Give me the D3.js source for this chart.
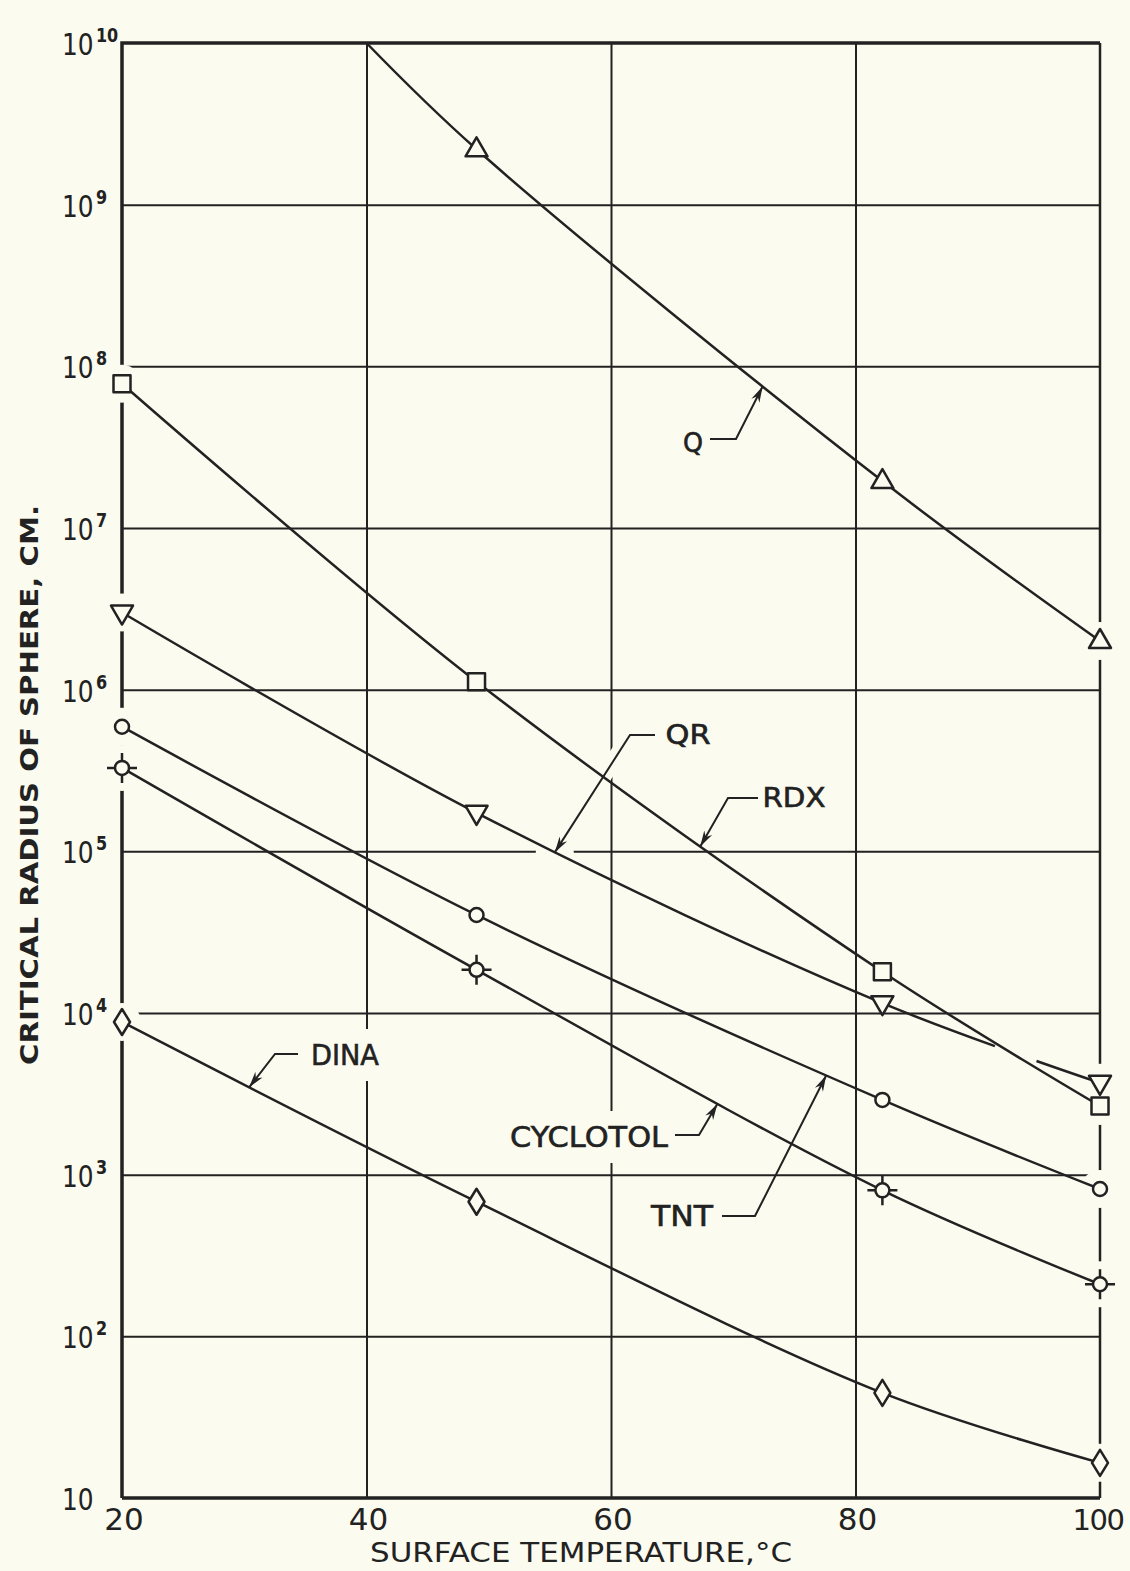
<!DOCTYPE html>
<html>
<head>
<meta charset="utf-8">
<script src="https://cdn.jsdelivr.net/npm/d3@7"></script>
<style>
    body { margin: 0; background: #fbfbef; }
</style>
</head>
<body>
<div id="plot"></div>
<script>
// Data
// =================================
var temps = [20, 49, 82.2, 100];
var qTemps = [40, 49, 82.2, 100];
var qValues = [1e10, 2.2e9, 1.95e7, 2.0e6];
var rdxValues = [7.8e7, 1.12e6, 1.8e4, 2.66e3];
var qrValues = [3.0e6, 1.73e5, 1.15e4, 3.7e3];
var tntValues = [5.9e5, 4.04e4, 2.9e3, 8.15e2];
var cyclotolValues = [3.28e5, 1.85e4, 8.0e2, 2.1e2];
var dinaValues = [8.8e3, 6.8e2, 44.7, 16.5];

var xTicks = [20, 40, 60, 80, 100];
var yTicks = [1e1, 1e2, 1e3, 1e4, 1e5, 1e6, 1e7, 1e8, 1e9, 1e10];
var yTickExp = ["", "2", "3", "4", "5", "6", "7", "8", "9", "10"];

var bg = "#fbfbef";
var ink = "#222";

/* Step 1
 * workspace
 */
var svgWidth = 1130;
var svgHeight = 1571;
var margin = { top: 43, right: 30, bottom: 73, left: 122 };
var width = svgWidth - margin.left - margin.right;
var height = svgHeight - margin.top - margin.bottom;

var svg = d3.select("#plot")
    .append("svg")
    .attr("width", svgWidth)
    .attr("height", svgHeight);

svg.append("rect")
    .attr("width", svgWidth)
    .attr("height", svgHeight)
    .attr("fill", bg);

var chartGroup = svg.append("g")
    .attr("transform", `translate(${margin.left}, ${margin.top})`);

// layers, filled later in this order
var gridLayer = chartGroup.append("g");
var frameLayer = chartGroup.append("g");
var knockLayer = chartGroup.append("g");
var curveLayer = chartGroup.append("g");
var markerLayer = chartGroup.append("g");
var leaderLayer = chartGroup.append("g");
var textLayer = svg.append("g");

/* Step 2
 * scales, grid, frame
 */
var xScale = d3.scaleLinear().domain([20, 100]).range([0, width]);
var yScale = d3.scaleLog().domain([10, 1e10]).range([height, 0]);

gridLayer.append("g")
    .attr("transform", `translate(0, ${height})`)
    .call(d3.axisBottom(xScale).tickValues([40, 60, 80]).tickSize(-height).tickFormat(""))
    .call(g => g.select(".domain").remove());

gridLayer.append("g")
    .call(d3.axisLeft(yScale).tickValues(yTicks.slice(1, -1)).tickSize(-width).tickFormat(""))
    .call(g => g.select(".domain").remove());

gridLayer.selectAll(".tick line")
    .attr("stroke", ink)
    .attr("stroke-width", 2);

frameLayer.append("path")
    .attr("d", `M0,${height}V0H${width}M0,${height}H${width}`)
    .attr("fill", "none")
    .attr("stroke", ink)
    .attr("stroke-width", 3.5);
frameLayer.append("line")
    .attr("x1", width).attr("x2", width)
    .attr("y1", 0).attr("y2", height)
    .attr("stroke", ink)
    .attr("stroke-width", 2.5);

/* Step 3
 * curves and markers
 */
var series = [
    { name: "Q", temps: qTemps, values: qValues, marker: "triUp" },
    { name: "RDX", temps: temps, values: rdxValues, marker: "square" },
    { name: "QR", temps: temps, values: qrValues, marker: "triDown" },
    { name: "TNT", temps: temps, values: tntValues, marker: "circle" },
    { name: "CYCLOTOL", temps: temps, values: cyclotolValues, marker: "circleCross" },
    { name: "DINA", temps: temps, values: dinaValues, marker: "diamond" }
];

var line = d3.line()
    .x(d => xScale(d[0]))
    .y(d => yScale(d[1]))
    .curve(d3.curveCatmullRom.alpha(0.5));

var paths = {};
// QR goes first so RDX is drawn over it
["QR", "Q", "RDX", "TNT", "CYCLOTOL", "DINA"].forEach(function (name) {
    var s = series.find(d => d.name === name);
    var pts = s.temps.map((t, i) => [t, s.values[i]]);
    paths[name] = curveLayer.append("path")
        .attr("d", line(pts))
        .attr("fill", "none")
        .attr("stroke", ink)
        .attr("stroke-width", 2.5)
        .node();
});

// find the point on a drawn curve at a given temperature
function pointAt(node, t) {
    var px = xScale(t);
    var lo = 0, hi = node.getTotalLength();
    for (var i = 0; i < 40; i++) {
        var mid = (lo + hi) / 2;
        if (node.getPointAtLength(mid).x < px) lo = mid; else hi = mid;
    }
    var p = node.getPointAtLength(lo);
    return { x: p.x, y: p.y, len: lo };
}

// QR line is broken where RDX crosses it
var qrNode = paths["QR"];
var g1 = pointAt(qrNode, 91.4).len;
var g2 = pointAt(qrNode, 94.8).len;
d3.select(qrNode).attr("stroke-dasharray", `${g1},${g2 - g1},${qrNode.getTotalLength()}`);

var shapes = {
    triUp: "M0,-12L11,7L-11,7Z",
    triDown: "M-11,-7L11,-7L0,12Z",
    square: "M-8.5,-8.5H8.5V8.5H-8.5Z",
    circle: "M7,0A7,7 0 1,1 -7,0A7,7 0 1,1 7,0Z",
    circleCross: "M7,0A7,7 0 1,1 -7,0A7,7 0 1,1 7,0Z",
    diamond: "M0,-13L8,0L0,13L-8,0Z"
};

series.forEach(function (s) {
    s.temps.forEach(function (t, i) {
        var v = s.values[i];
        if (v >= 1e10) return;
        var cx = xScale(t), cy = yScale(v);
        if (t === 20 || t === 100) {
            knockLayer.append("circle")
                .attr("cx", cx).attr("cy", cy)
                .attr("r", s.marker === "circleCross" ? 23 : 19)
                .attr("fill", bg);
        }
        var g = markerLayer.append("g").attr("transform", `translate(${cx},${cy})`);
        if (s.marker === "circleCross") {
            g.append("path")
                .attr("d", "M0,-15V-7M0,7V15M-15,0H-7M7,0H15")
                .attr("stroke", ink)
                .attr("stroke-width", 2.5);
        }
        g.append("path")
            .attr("d", shapes[s.marker])
            .attr("fill", bg)
            .attr("stroke", ink)
            .attr("stroke-width", 2.5)
            .attr("stroke-linejoin", "round");
    });
});

/* Step 4
 * labels with leader arrows
 */
var labels = [
    { text: "Q", series: "Q", at: 72.4, x: 693, y: 442, size: 27, len: 20, from: [[710, 439], [736, 439]], halo: 0 },
    { text: "QR", series: "QR", at: 55.4, x: 688, y: 735, size: 26, len: 45, from: [[655, 735], [630, 735]], halo: 16 },
    { text: "RDX", series: "RDX", at: 67.3, x: 794, y: 798, size: 26, len: 63, from: [[758, 798], [728, 798]], halo: 0 },
    { text: "DINA", series: "DINA", at: 30.4, x: 345, y: 1055, size: 29, len: 68, from: [[298, 1054], [275, 1054]], halo: 0 },
    { text: "CYCLOTOL", series: "CYCLOTOL", at: 68.7, x: 589, y: 1137, size: 29, len: 158, from: [[675, 1135], [699, 1135]], halo: 0 },
    { text: "TNT", series: "TNT", at: 77.6, x: 682, y: 1216, size: 29, len: 62, from: [[722, 1216], [755, 1216]], halo: 0 }
];

labels.forEach(function (lb) {
    var tip = pointAt(paths[lb.series], lb.at);
    var pts = lb.from.map(p => [p[0] - margin.left, p[1] - margin.top]);
    pts.push([tip.x, tip.y]);

    if (lb.halo) {
        knockLayer.append("path")
            .attr("d", d3.line()(pts))
            .attr("fill", "none")
            .attr("stroke", bg)
            .attr("stroke-width", lb.halo);
        knockLayer.append("circle")
            .attr("cx", tip.x).attr("cy", tip.y)
            .attr("r", 19)
            .attr("fill", bg);
    }

    leaderLayer.append("path")
        .attr("d", d3.line()(pts))
        .attr("fill", "none")
        .attr("stroke", ink)
        .attr("stroke-width", 2);

    // arrow head
    var a = pts[pts.length - 2];
    var dx = tip.x - a[0], dy = tip.y - a[1];
    var d = Math.sqrt(dx * dx + dy * dy);
    dx /= d; dy /= d;
    var bx = tip.x - dx * 16, by = tip.y - dy * 16;
    leaderLayer.append("path")
        .attr("d", `M${tip.x},${tip.y}L${bx - dy * 4.5},${by + dx * 4.5}L${tip.x - dx * 11},${tip.y - dy * 11}L${bx + dy * 4.5},${by - dx * 4.5}Z`)
        .attr("fill", ink);

    var t = textLayer.append("text")
        .attr("x", lb.x)
        .attr("y", lb.y)
        .attr("dy", "0.36em")
        .attr("text-anchor", "middle")
        .attr("font-family", "DejaVu Sans, sans-serif")
        .attr("font-size", lb.size)
        .attr("fill", ink)
        .attr("stroke", ink)
        .attr("stroke-width", 0.6)
        .attr("textLength", lb.len)
        .attr("lengthAdjust", "spacingAndGlyphs")
        .text(lb.text);

    var bb = t.node().getBBox();
    knockLayer.append("rect")
        .attr("x", bb.x - margin.left - 6)
        .attr("y", lb.y - margin.top - 26)
        .attr("width", bb.width + 12)
        .attr("height", 52)
        .attr("fill", bg);
});

/* Step 5
 * tick labels and titles
 */
xTicks.forEach(function (t) {
    textLayer.append("text")
        .attr("x", margin.left + xScale(t) + (t === 100 ? -2 : 2))
        .attr("y", margin.top + height + 32)
        .attr("text-anchor", "middle")
        .attr("font-family", "DejaVu Sans, sans-serif")
        .attr("font-size", t === 100 ? 29 : 31)
        .attr("letter-spacing", t === 100 ? -1.5 : 0)
        .attr("fill", ink)
        .text(t);
});

// "10" plus superscript, squeezed a little to match the lettering
yTicks.forEach(function (v, i) {
    var y = margin.top + yScale(v) + 12;
    var t = textLayer.append("text")
        .attr("transform", `translate(62, ${y}) scale(0.8, 1)`)
        .attr("font-family", "DejaVu Sans, sans-serif")
        .attr("fill", ink);
    t.append("tspan")
        .attr("font-size", 31)
        .text("10");
    if (yTickExp[i]) {
        t.append("tspan")
            .attr("dx", 3)
            .attr("dy", -13)
            .attr("font-size", 20)
            .attr("font-weight", "bold")
            .text(yTickExp[i]);
    }
});

// X axis title
textLayer.append("text")
    .attr("x", 581)
    .attr("y", 1562)
    .attr("text-anchor", "middle")
    .attr("font-family", "DejaVu Sans, sans-serif")
    .attr("font-size", 27)
    .attr("fill", ink)
    .attr("textLength", 422)
    .attr("lengthAdjust", "spacingAndGlyphs")
    .text("SURFACE TEMPERATURE,°C");

// Y axis title
textLayer.append("text")
    .attr("transform", "translate(38, 785) rotate(-90)")
    .attr("text-anchor", "middle")
    .attr("font-family", "DejaVu Sans, sans-serif")
    .attr("font-weight", "bold")
    .attr("font-size", 25)
    .attr("fill", ink)
    .attr("textLength", 560)
    .attr("lengthAdjust", "spacingAndGlyphs")
    .text("CRITICAL RADIUS OF SPHERE, CM.");
</script>
</body>
</html>
